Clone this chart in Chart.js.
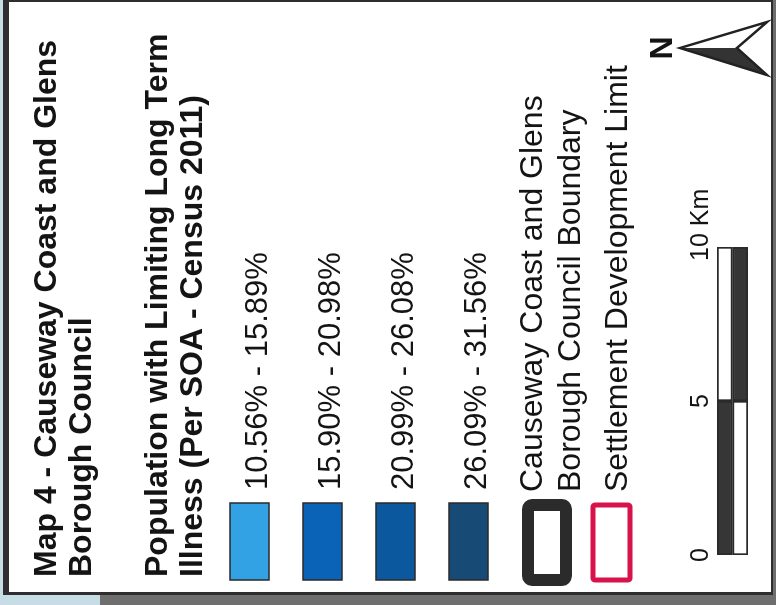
<!DOCTYPE html>
<html>
<head>
<meta charset="utf-8">
<script src="https://cdn.jsdelivr.net/npm/chart.js@4.4.1/dist/chart.umd.min.js"></script>
<style>
  html, body { margin: 0; padding: 0; background: #6e6e6e; overflow: hidden; }
  /* legend is laid out upright (605 x 776) and turned a quarter to the left */
  #wrap {
    position: absolute; left: 0; top: 0;
    width: 605px; height: 776px;
    transform-origin: 0 0;
    transform: translate(0, 605px) rotate(-90deg);
  }
</style>
</head>
<body>
<div id="wrap"><canvas id="legendChart" width="605" height="776"></canvas></div>
<script>
// Map legend values
const titleLines = ["Map 4 - Causeway Coast and Glens", "Borough Council"];
const subtitleLines = ["Population with Limiting Long Term", "Illness (Per SOA - Census 2011)"];
const classLabels = ["10.56% - 15.89%", "15.90% - 20.98%", "20.99% - 26.08%", "26.09% - 31.56%"];
const classColors = ["#33a2e5", "#0a63b6", "#0c589f", "#184a76"];
const boundaryLabel = ["Causeway Coast and Glens", "Borough Council Boundary"];
const settlementLabel = ["Settlement Development Limit"];

// Scale bar (km)
const scaleTicks = [0, 5, 10];
const scaleUnit = "Km";
const scaleRows = ["upper", "lower"];
const scaleDark = [[0, 5], [5, 10]];
const scaleLight = [[5, 10], [0, 5]];

const FONT = "'Liberation Sans', Arial, sans-serif";
const INK = "#141414";
const TICK_SIZE = 25;
const TICK_PAD = 1;

const legendPlugin = {
    id: "mapLegend",
    beforeDraw(chart) {
        const ctx = chart.ctx;
        ctx.save();
        // scanned frame
        ctx.fillStyle = "#6e6e6e";
        ctx.fillRect(0, 0, 605, 776);
        ctx.fillStyle = "#c6dde6";
        ctx.fillRect(0, 0, 605, 3);
        ctx.fillRect(0, 0, 10, 100);
        ctx.fillStyle = "#2e2e2e";
        ctx.fillRect(10, 3, 595, 770);
        ctx.fillStyle = "#ffffff";
        ctx.fillRect(13, 9, 590, 762);
        ctx.restore();
    },
    afterDraw(chart) {
        const ctx = chart.ctx;
        ctx.save();
        ctx.fillStyle = INK;
        ctx.textAlign = "left";
        ctx.textBaseline = "alphabetic";

        ctx.font = "bold 32px " + FONT;
        titleLines.forEach((t, i) => ctx.fillText(t, 28, 56 + i * 35));
        subtitleLines.forEach((t, i) => ctx.fillText(t, 28, 167 + i * 35));

        // choropleth classes
        ctx.font = "31px " + FONT;
        classLabels.forEach((t, i) => {
            const top = 230 + i * 73;
            ctx.fillStyle = classColors[i];
            ctx.fillRect(25, top, 77, 39);
            ctx.strokeStyle = "#2a2a2a";
            ctx.lineWidth = 1.5;
            ctx.strokeRect(25, top, 77, 39);
            ctx.fillStyle = INK;
            ctx.fillText(t, 115, top + 37);
        });

        // council boundary
        ctx.font = "32px " + FONT;
        ctx.strokeStyle = "#2b2b2b";
        ctx.lineWidth = 12;
        ctx.lineJoin = "round";
        ctx.beginPath();
        ctx.roundRect(25, 528, 75, 38, 4);
        ctx.stroke();
        boundaryLabel.forEach((t, i) => ctx.fillText(t, 113, 542 + i * 38));

        // settlement limit
        ctx.strokeStyle = "#d8124a";
        ctx.lineWidth = 5;
        ctx.beginPath();
        ctx.roundRect(25, 593, 75, 37, 2);
        ctx.stroke();
        settlementLabel.forEach((t, i) => ctx.fillText(t, 113, 627 + i * 38));

        // north arrow
        ctx.lineJoin = "miter";
        ctx.fillStyle = "#333333";
        ctx.beginPath();
        ctx.moveTo(557, 680); ctx.lineTo(530, 767); ctx.lineTo(557, 737); ctx.closePath();
        ctx.fill();
        ctx.fillStyle = "#ffffff";
        ctx.beginPath();
        ctx.moveTo(557, 680); ctx.lineTo(583, 767); ctx.lineTo(557, 737); ctx.closePath();
        ctx.fill();
        ctx.strokeStyle = "#222222";
        ctx.lineWidth = 2.5;
        ctx.beginPath();
        ctx.moveTo(557, 680); ctx.lineTo(583, 767); ctx.lineTo(557, 737);
        ctx.lineTo(530, 767); ctx.closePath();
        ctx.stroke();
        ctx.fillStyle = INK;
        ctx.font = "bold 32px " + FONT;
        ctx.textAlign = "center";
        ctx.fillText("N", 557, 672);

        // unit after the last scale tick, on the same line as the tick labels
        const xs = chart.scales.x;
        const last = scaleTicks[scaleTicks.length - 1];
        ctx.font = TICK_SIZE + "px " + FONT;
        ctx.textAlign = "left";
        ctx.textBaseline = "middle";
        const half = ctx.measureText(String(last)).width / 2;
        const ty = xs.bottom - TICK_PAD - TICK_SIZE * 1.2 / 2;
        ctx.fillText(" " + scaleUnit, xs.getPixelForValue(last) + half, ty);
        ctx.restore();
    }
};

new Chart(document.getElementById("legendChart"), {
    type: "bar",
    data: {
        labels: scaleRows,
        datasets: [
            {
                label: "dark",
                data: scaleDark,
                backgroundColor: "#363636",
                borderColor: "#2a2a2a",
                borderWidth: 2,
                borderSkipped: false,
                grouped: false
            },
            {
                label: "light",
                data: scaleLight,
                backgroundColor: "#ffffff",
                borderColor: "#2a2a2a",
                borderWidth: 2,
                borderSkipped: false,
                grouped: false
            }
        ]
    },
    options: {
        indexAxis: "y",
        responsive: false,
        animation: false,
        layout: { padding: { left: 50, right: 247, top: 718 - TICK_SIZE * 1.2 - 2 * TICK_PAD, bottom: 28 } },
        datasets: { bar: { categoryPercentage: 1, barPercentage: 1 } },
        plugins: { legend: { display: false }, tooltip: { enabled: false } },
        scales: {
            x: {
                type: "linear",
                position: "top",
                min: scaleTicks[0],
                max: scaleTicks[scaleTicks.length - 1],
                afterBuildTicks: (scale) => { scale.ticks = scaleTicks.map(v => ({ value: v })); },
                grid: { display: false, drawTicks: false },
                border: { display: false },
                ticks: {
                    padding: TICK_PAD,
                    color: INK,
                    maxRotation: 0,
                    font: { family: FONT, size: TICK_SIZE },
                    callback: (v) => String(v)
                }
            },
            y: { display: false }
        }
    },
    plugins: [legendPlugin]
});
</script>
</body>
</html>
